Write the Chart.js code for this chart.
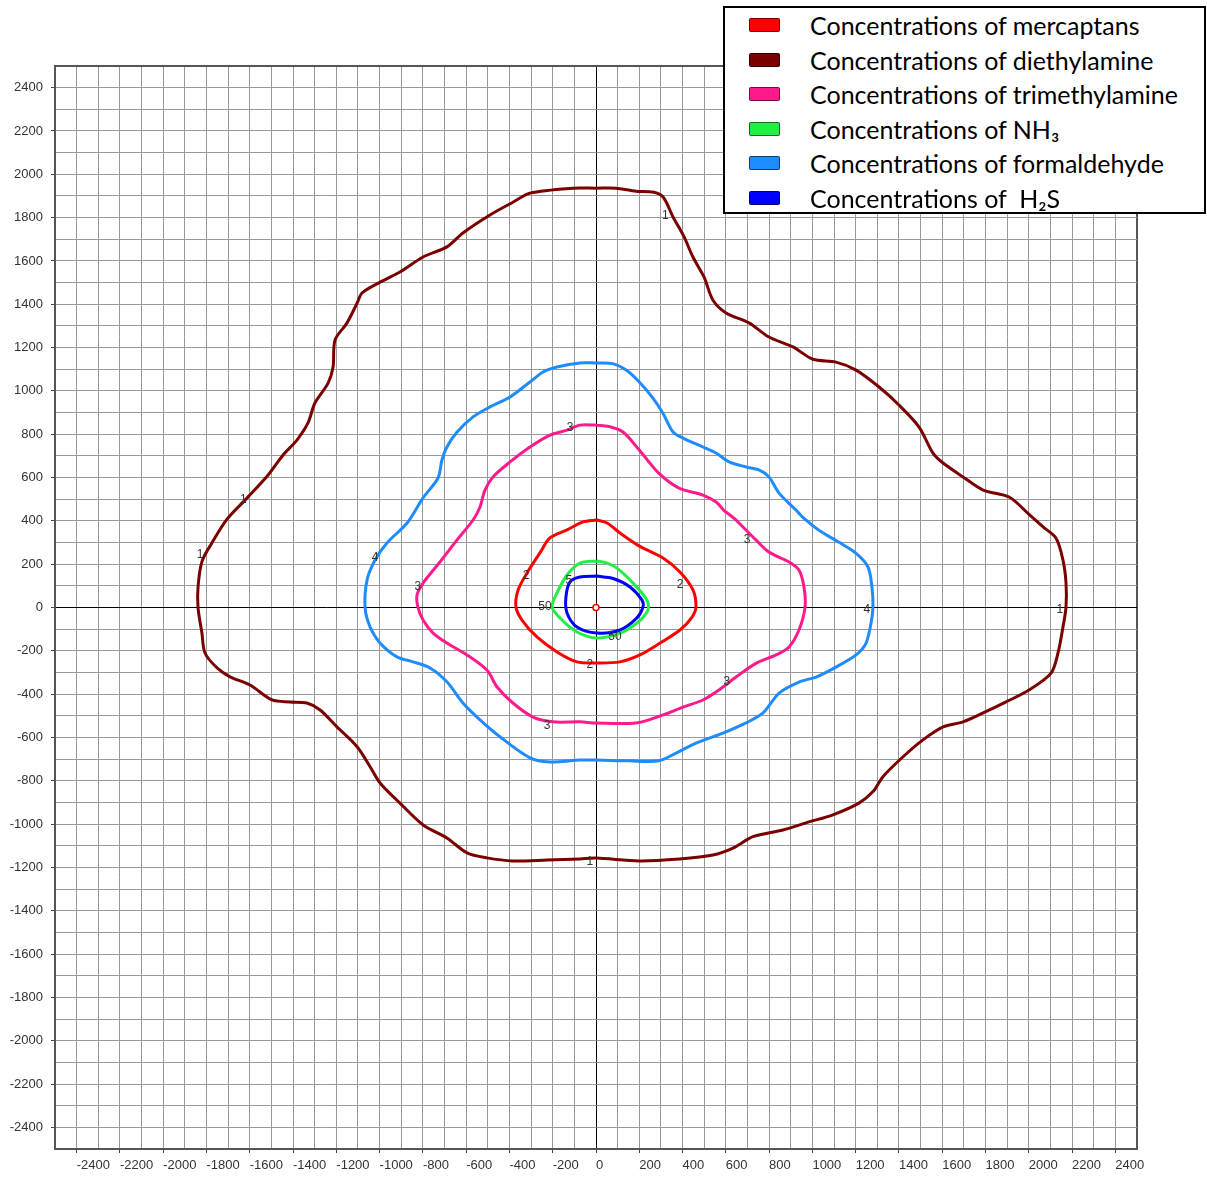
<!DOCTYPE html>
<html>
<head>
<meta charset="utf-8">
<script src="https://cdn.jsdelivr.net/npm/chart.js@4.4.0/dist/chart.umd.min.js"></script>
<style>
  html, body { margin: 0; padding: 0; background: #fff; }
  #wrap { position: relative; width: 1207px; height: 1178px; }
  #legend {
    position: absolute; left: 723px; top: 6px; width: 483px; height: 208px;
    box-sizing: border-box; border: 2px solid #000; background: #fff;
    font-family: Lato, "Open Sans", sans-serif; font-size: 25px; color: #000;
    padding-top: 0;
  }
  .item { position: relative; height: 34.6px; line-height: 34.6px; white-space: pre; }
  .swatch {
    position: absolute; left: 24px; top: 10px; width: 29px; height: 12px;
    border: 1px solid rgba(0,0,0,0.55); border-radius: 2px;
  }
  .text { position: absolute; left: 85px; top: 0; }
</style>
</head>
<body>
<div id="wrap">
  <canvas id="chart" width="1207" height="1178"></canvas>
  <div id="legend"></div>
</div>
<script>
// --- DATA ---
const seriesLabels = [
  'Concentrations of mercaptans',
  'Concentrations of diethylamine',
  'Concentrations of trimethylamine',
  'Concentrations of NH\u2083',
  'Concentrations of formaldehyde',
  'Concentrations of  H\u2082S'
];
const seriesColors = ['#ff0000', '#7a0000', '#ff1a8c', '#22ee44', '#1e8cff', '#0000ff'];

const tickLabels = [-2400, -2200, -2000, -1800, -1600, -1400, -1200, -1000, -800, -600, -400, -200, 0,
  200, 400, 600, 800, 1000, 1200, 1400, 1600, 1800, 2000, 2200, 2400];

// mercaptans (red)
const mercaptansX = [3, 51, 111, 203, 310, 388, 448, 462, 444, 388, 296, 203, 111, 3, -88, -180, -273, -342, -370, -360, -319, -259, -213, -134, -60, 3];
const mercaptansY = [404, 390, 344, 282, 229, 164, 81, 2, -44, -104, -164, -219, -251, -256, -251, -205, -136, -58, 2, 81, 159, 252, 321, 358, 395, 404];

// diethylamine (maroon)
const diethylamineX = [0, 92, 185, 263, 310, 356, 407, 448, 499, 540, 601, 707, 799, 910, 1003, 1109, 1202, 1308, 1400, 1493,
  1557, 1604, 1696, 1789, 1909, 2001, 2066, 2126, 2158, 2172, 2172, 2158, 2135, 2103, 2001, 1895, 1789, 1696, 1604, 1511,
  1419, 1326, 1280, 1215, 1095, 984, 864, 725, 633, 540, 385, 200, 0, -74, -226, -384, -504, -596, -689, -799,
  -906, -998, -1044, -1104, -1197, -1275, -1336, -1414, -1497, -1599, -1691, -1751, -1807, -1821, -1839, -1839, -1821, -1775, -1705, -1613,
  -1515, -1446, -1382, -1331, -1299, -1238, -1215, -1206, -1151, -1104, -1081, -998, -906, -799, -689, -615, -490, -384, -305, -106, 0];
const diethylamineY = [1936, 1936, 1922, 1918, 1895, 1803, 1711, 1618, 1526, 1420, 1360, 1314, 1249, 1203, 1146, 1133, 1096, 1018, 935, 833,
  713, 667, 603, 542, 510, 430, 372, 320, 219, 113, 2, -90, -210, -303, -381, -436, -487, -528, -551, -611,
  -689, -781, -850, -903, -957, -990, -1027, -1058, -1111, -1143, -1161, -1170, -1157, -1161, -1166, -1170, -1156, -1133, -1064, -1004,
  -903, -810, -735, -643, -551, -473, -441, -436, -427, -358, -320, -279, -210, -118, -2, 95, 212, 298, 408, 505,
  612, 704, 773, 852, 944, 1036, 1110, 1235, 1313, 1405, 1452, 1502, 1549, 1618, 1665, 1729, 1812, 1871, 1913, 1936, 1936];

// trimethylamine (pink)
const trimethylamineX = [0, 60, 125, 200, 291, 384, 494, 555, 590, 640, 661, 739, 799, 892, 938, 961, 966, 938, 892, 832,
  739, 647, 568, 494, 402, 310, 185, 0, -74, -199, -291, -384, -457, -504, -596, -689, -753, -799, -823, -827,
  -799, -721, -642, -568, -536, -513, -476, -397, -305, -213, -134, -74, 0];
const trimethylamineY = [842, 836, 810, 727, 619, 551, 519, 487, 450, 410, 390, 312, 256, 210, 173, 95, 2, -104, -182, -219,
  -258, -321, -381, -427, -460, -496, -533, -533, -528, -528, -506, -441, -367, -289, -219, -164, -118, -58, 2, 58,
  113, 210, 312, 404, 464, 542, 603, 672, 741, 796, 819, 842, 842];

// NH3 (green)
const nh3X = [3, 51, 97, 171, 235, 240, 189, 111, 3, -88, -157, -203, -180, -134, -74, 3];
const nh3Y = [215, 205, 182, 113, 35, -12, -72, -118, -141, -113, -58, 2, 67, 150, 205, 215];

// formaldehyde (light blue)
const formaldehydeX = [0, 77, 139, 200, 263, 310, 356, 402, 494, 555, 615, 693, 753, 799, 846, 924, 961, 1030, 1123, 1202,
  1257, 1275, 1280, 1271, 1248, 1202, 1109, 1017, 938, 846, 772, 693, 587, 462, 370, 291, 153, 0, -74, -213,
  -305, -444, -536, -615, -689, -767, -846, -920, -998, -1044, -1067, -1058, -1021, -966, -873, -800, -730, -712, -689, -642,
  -568, -490, -397, -305, -245, -180, -74, 0];
const formaldehydeY = [1129, 1126, 1096, 1041, 967, 896, 810, 782, 741, 713, 672, 649, 635, 603, 528, 450, 411, 357, 301, 250,
  187, 95, 2, -72, -164, -219, -275, -321, -344, -395, -487, -533, -580, -626, -672, -708, -708, -704, -704, -713,
  -694, -597, -519, -441, -343, -279, -251, -228, -164, -90, -2, 127, 219, 298, 390, 505, 598, 681, 741, 810,
  880, 926, 972, 1041, 1087, 1110, 1129, 1129];

// H2S (blue)
const h2sX = [3, 79, 157, 212, 217, 189, 111, 3, -88, -134, -139, -120, -74, 3];
const h2sY = [145, 134, 95, 35, 2, -48, -104, -118, -90, -25, 48, 118, 141, 145];

// contour level labels
const labelX = [320, -1630, -1830, 2144, -28, -1021, 1252, -120, 698, -823, 605, -226, -323, 388, -28, -125, -236, 88];
const labelY = [1810, 497, 242, -12, -1175, 228, -12, 828, 312, 95, -344, -547, 145, 104, -265, 122, 2, -136];
const labelText = ['1', '1', '1', '1', '1', '4', '4', '3', '3', '3', '3', '3', '2', '2', '2', '5', '50', '50'];

// source point
const sourceX = [0];
const sourceY = [0];

// --- HELPERS ---
function toPoints(xs, ys) {
  return xs.map((x, i) => ({ x: x, y: ys[i] }));
}

const seriesData = [
  toPoints(mercaptansX, mercaptansY),
  toPoints(diethylamineX, diethylamineY),
  toPoints(trimethylamineX, trimethylamineY),
  toPoints(nh3X, nh3Y),
  toPoints(formaldehydeX, formaldehydeY),
  toPoints(h2sX, h2sY)
];

const datasets = seriesData.map((pts, i) => ({
  label: seriesLabels[i],
  data: pts,
  showLine: true,
  borderColor: seriesColors[i],
  borderWidth: 3,
  pointRadius: 0,
  tension: 0.3,
  fill: false
}));

datasets.push({
  label: 'source',
  data: toPoints(sourceX, sourceY),
  showLine: false,
  pointRadius: 3,
  pointBorderWidth: 1.5,
  pointBorderColor: '#ff0000',
  pointBackgroundColor: '#ffffff'
});

// grid styling by tick value
const gridColor = ctx => {
  const v = ctx.tick ? ctx.tick.value : null;
  if (v === 0) return '#000000';
  if (v === -2500 || v === 2500) return '#555555';
  return '#999999';
};
const gridWidth = ctx => {
  const v = ctx.tick ? ctx.tick.value : null;
  return (v === -2500 || v === 2500) ? 2 : 1;
};
const tickColor = ctx => {
  const v = ctx.tick ? ctx.tick.value : null;
  return tickLabels.includes(v) ? '#444444' : 'rgba(0,0,0,0)';
};
const tickFont = { family: '"Liberation Sans", Arial, sans-serif', size: 13 };

// draws the contour level numbers
const contourLabelPlugin = {
  id: 'contourLabels',
  afterDatasetsDraw(chart) {
    const { ctx, scales } = chart;
    ctx.save();
    ctx.font = '12px "Liberation Sans", Arial, sans-serif';
    ctx.fillStyle = '#333333';
    ctx.textAlign = 'center';
    ctx.textBaseline = 'middle';
    labelText.forEach((t, i) => {
      ctx.fillText(t, scales.x.getPixelForValue(labelX[i]), scales.y.getPixelForValue(labelY[i]));
    });
    ctx.restore();
  }
};

const chart = new Chart(document.getElementById('chart'), {
  type: 'scatter',
  data: { datasets: datasets },
  options: {
    responsive: false,
    animation: false,
    layout: { padding: { top: 66, right: 70, left: 0, bottom: 0 } },
    plugins: { legend: { display: false }, tooltip: { enabled: false } },
    scales: {
      x: {
        type: 'linear', min: -2500, max: 2500,
        afterFit: s => { s.height = 29; },
        ticks: {
          stepSize: 100, autoSkip: false, maxRotation: 0, align: 'start', padding: 5,
          color: '#333333', font: tickFont,
          callback: v => tickLabels.includes(v) ? String(v) : ''
        },
        grid: { color: gridColor, lineWidth: gridWidth, tickLength: 4, tickColor: tickColor, tickWidth: 1 },
        border: { display: true, color: '#555555', width: 2 }
      },
      y: {
        type: 'linear', min: -2500, max: 2500,
        afterFit: s => { s.width = 55; },
        ticks: {
          stepSize: 100, autoSkip: false, padding: 8,
          color: '#333333', font: tickFont,
          callback: v => tickLabels.includes(v) ? String(v) : ''
        },
        grid: { color: gridColor, lineWidth: gridWidth, tickLength: 4, tickColor: tickColor, tickWidth: 1 },
        border: { display: true, color: '#555555', width: 2 }
      }
    }
  },
  plugins: [contourLabelPlugin]
});

// --- HTML LEGEND ---
const legendEl = document.getElementById('legend');
seriesLabels.forEach((label, i) => {
  const row = document.createElement('div');
  row.className = 'item';
  const sw = document.createElement('span');
  sw.className = 'swatch';
  sw.style.background = seriesColors[i];
  const tx = document.createElement('span');
  tx.className = 'text';
  tx.textContent = label;
  row.appendChild(sw);
  row.appendChild(tx);
  legendEl.appendChild(row);
});
</script>
</body>
</html>
